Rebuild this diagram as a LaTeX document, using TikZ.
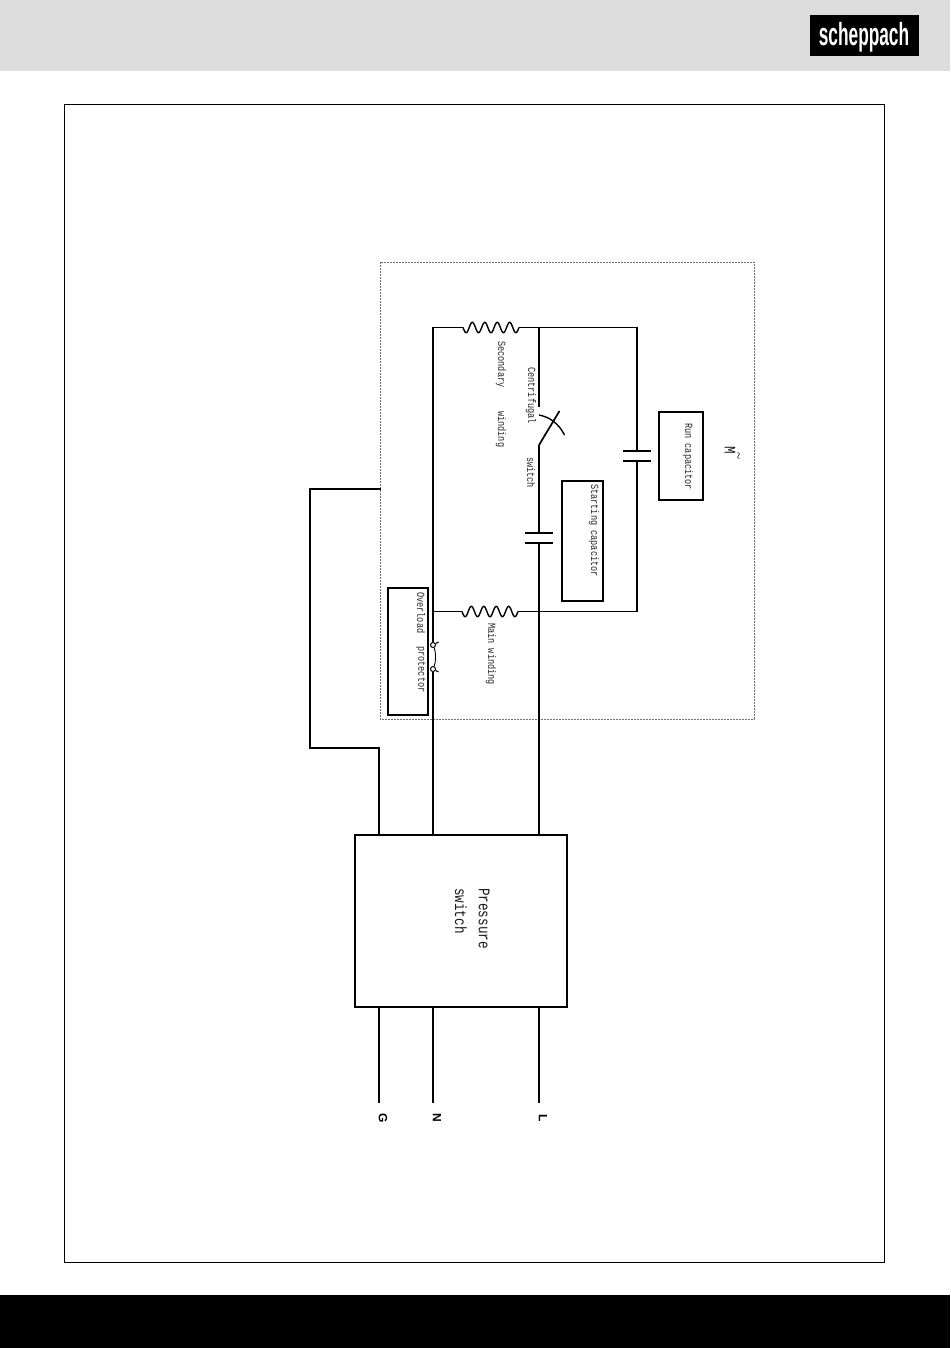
\documentclass[tikz,border=0pt]{standalone}
\usepackage{fontspec}
\setmainfont{Liberation Serif}
\setmonofont{Liberation Mono}
\setsansfont{Liberation Sans}
\usetikzlibrary{positioning}
\usetikzlibrary{calc}
\definecolor{headgray}{HTML}{DCDCDC}
\definecolor{dashgray}{HTML}{707070}
\tikzset{
	wire/.style={line width=1.7pt,black},
	partbox/.style={draw,line width=1.7pt,black,inner sep=0pt,outer sep=0pt,anchor=north west},
	coilline/.style={line width=1.4pt,domain=0:1,samples=90,smooth,variable=\t},
	ringnode/.style={draw,circle,fill=white,line width=1pt,minimum size=5pt,inner sep=0pt},
	smalltxt/.style={rotate=-90,xscale=0.78,anchor=west,inner sep=0pt,text=black!85,font=\ttfamily\fontsize{11}{11}\selectfont},
	bigtxt/.style={rotate=-90,xscale=0.78,anchor=west,inner sep=0pt,text=black!90,font=\ttfamily\fontsize{16.2}{16}\selectfont},
	linetxt/.style={rotate=-90,inner sep=0pt,font=\sffamily\bfseries\fontsize{12}{12}\selectfont}
}
\begin{document}
\begin{tikzpicture}[x=1pt,y=-1pt]
	\useasboundingbox (0,0) rectangle (950,1348);
	% Page
	\fill[headgray] (0,0) rectangle (950,71);
	\fill[black] (0,1295) rectangle (950,1348);
	\draw[line width=0.9pt] (64.5,104.5) rectangle (884,1262);
	\node[draw=black,fill=black,minimum width=108pt,minimum height=40pt,inner sep=0pt] (logo) at (864.5,35) {};
	\node[text=white,xscale=0.54,anchor=base,font=\sffamily\bfseries\fontsize{32}{32}\selectfont,inner sep=0pt] (logotxt) at (864,46) {scheppach};
	% Motor outline
	\draw[dashgray,line width=0.8pt,dash pattern=on 2pt off 1pt] (380,262) rectangle (754,719);
	% Boxes
	\node[partbox,minimum width=212pt,minimum height=172pt] (pswitch) at (355,835) {};
	\node[partbox,minimum width=44pt,minimum height=88pt] (runbox) at (659,412) {};
	\node[partbox,minimum width=41pt,minimum height=120pt] (startbox) at (562,481) {};
	\node[partbox,minimum width=40pt,minimum height=127pt] (overbox) at (388,588) {};
	% Wire points
	\coordinate (Gin) at (379,835);
	\coordinate (Nin) at (433,835);
	\coordinate (Lin) at (539,835);
	\coordinate (Gout) at (379,1007);
	\coordinate (Nout) at (433,1007);
	\coordinate (Lout) at (539,1007);
	\coordinate (Gend) at (379,1103);
	\coordinate (Nend) at (433,1103);
	\coordinate (Lend) at (539,1103);
	\coordinate (motorG) at (381,489);
	\coordinate (topN) at (433,327.5);
	\coordinate (secA) at (463,327.5);
	\coordinate (secB) at (519,327.5);
	\coordinate (topL) at (539,327.5);
	\coordinate (topR) at (637,327.5);
	\coordinate (midN) at (433,611.5);
	\coordinate (mainA) at (462,611.5);
	\coordinate (mainB) at (518,611.5);
	\coordinate (midL) at (539,611.5);
	\coordinate (midR) at (637,611.5);
	\coordinate (swA) at (539,407);
	\coordinate (swB) at (539,445);
	\coordinate (swC) at (559.5,411);
	\coordinate (capRa) at (637,451);
	\coordinate (capRb) at (637,461);
	\coordinate (capSa) at (539,533);
	\coordinate (capSb) at (539,543);
	\node[ringnode] (olA) at (433,645) {};
	\node[ringnode] (olB) at (433,669) {};
	% Wires
	\draw[wire] (Gin) -- (379,748) -- (310,748) -- (310,489) -- (motorG);
	\draw[wire] (Nin) -- (olB);
	\draw[wire] (olA) -- (topN) -- (secA);
	\draw[wire] (secB) -- (topR) -- (capRa);
	\draw[wire] (capRb) -- (midR) -- (mainB);
	\draw[wire] (midN) -- (mainA);
	\draw[wire] (topL) -- (swA);
	\draw[wire] (swB) -- (swC);
	\draw[wire] (swB) -- (capSa);
	\draw[wire] (capSb) -- (Lin);
	\foreach \p in {G,N,L} {
		\draw[wire] (\p out) -- (\p end);
	}
	% Windings
	\foreach \c in {secA,mainA} {
		\draw[coilline,shift={(\c)}] plot ({56*\t},{5.2*sin(1620*\t)});
	}
	% Capacitors
	\foreach \c in {capRa,capRb,capSa,capSb} {
		\draw[wire] ($(\c)+(-14,0)$) -- ($(\c)+(14,0)$);
	}
	% Switch arc and overload protector
	\draw[line width=1.4pt] (539,415) .. controls (550,417) and (559,424) .. (564.5,435);
	\draw[line width=0.9pt] (olA) .. controls (436,652) and (436,662) .. (olB);
	\draw[line width=1.1pt] (olA) -- (438.5,642);
	\draw[line width=1.1pt] (olB) -- (438.5,672);
	% Labels
	\node[smalltxt] (txtsec) at (501,341) {Secondary};
	\node[smalltxt] (txtwin) at (501,411) {winding};
	\node[smalltxt] (txtcen) at (531,367) {Centrifugal};
	\node[smalltxt] (txtsw) at (531,457) {switch};
	\node[smalltxt] (txtrun) at (688,423) {Run capacitor};
	\node[smalltxt] (txtsta) at (594,484) {Starting capacitor};
	\node[smalltxt] (txtove) at (421,592) {Overload};
	\node[smalltxt] (txtpro) at (421,646) {protector};
	\node[smalltxt] (txtmai) at (491,623) {Main winding};
	\node[bigtxt] (txtm) at (730,446) {M};
	\node[rotate=-90,inner sep=0pt,font=\fontsize{13}{13}\selectfont] (txtsim) at (737,456) {\textasciitilde};
	\node[bigtxt] (txtpre) at (484,888) {Pressure};
	\node[bigtxt] (txtps) at (461,888) {switch};
	\foreach \p/\q in {G/379,N/433,L/539} {
		\node[linetxt] (lab\p) at (\q+4,1118) {\p};
	}
\end{tikzpicture}
\end{document}
